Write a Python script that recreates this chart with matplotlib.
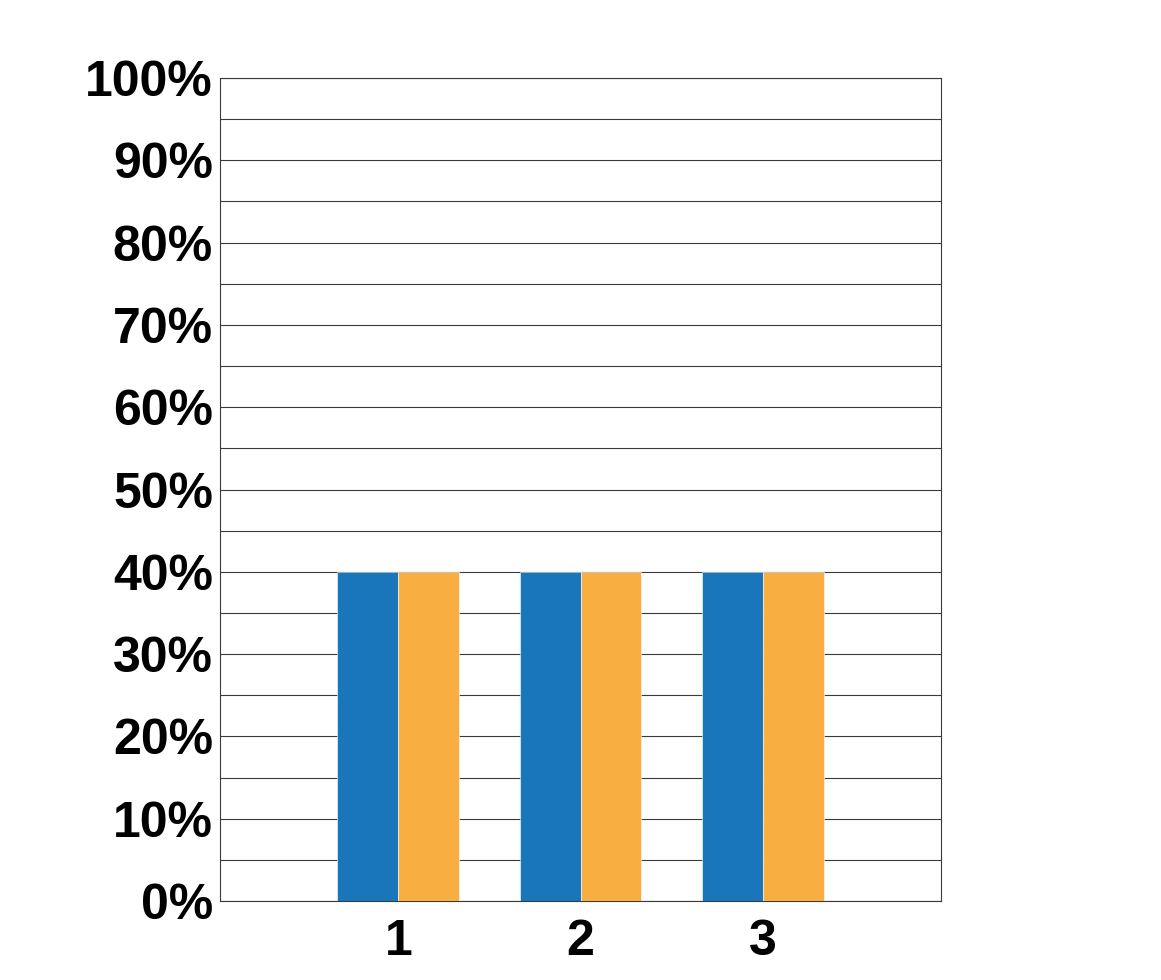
import matplotlib
matplotlib.use("Agg")
import matplotlib.pyplot as plt
import numpy as np
from matplotlib.ticker import MultipleLocator, FuncFormatter

# chart data
categories = ["1", "2", "3"]
series_a = [40, 40, 40]   # blue
series_b = [40, 40, 40]   # orange
y_ticks = [0, 10, 20, 30, 40, 50, 60, 70, 80, 90, 100]

BLUE = "#1a76bb"
ORANGE = "#f9ae41"
GRID = "#3a3a3a"

plt.rcParams["font.family"] = ["Liberation Sans", "DejaVu Sans"]

fig = plt.figure(figsize=(11.61, 9.8), dpi=100)
ax = fig.add_axes([220 / 1161, 79 / 980, 721 / 1161, 823 / 980])

x = np.arange(1, len(categories) + 1)
w = 0.335
ax.bar(x - w / 2, series_a, width=w, color=BLUE, edgecolor="white", linewidth=0.4, zorder=3)
ax.bar(x + w / 2, series_b, width=w, color=ORANGE, edgecolor="white", linewidth=0.4, zorder=3)

ax.set_xlim(0.02, 3.98)
ax.set_ylim(0, 100)
ax.set_xticks(x)
ax.set_xticklabels(categories)
ax.set_yticks(y_ticks)
ax.yaxis.set_major_formatter(FuncFormatter(lambda v, _: f"{v:.0f}%"))
ax.yaxis.set_minor_locator(MultipleLocator(5))

ax.grid(axis="y", which="both", color=GRID, linewidth=0.8, zorder=0)
ax.set_axisbelow(True)
for s in ax.spines.values():
    s.set_color(GRID)
    s.set_linewidth(0.8)

ax.tick_params(axis="both", which="both", length=0)
ax.tick_params(axis="y", pad=5, labelsize=36)
ax.tick_params(axis="x", pad=13, labelsize=36)
for lab in ax.get_xticklabels() + ax.get_yticklabels():
    lab.set_fontweight("bold")

fig.savefig("out.png", dpi=100, facecolor="white")
